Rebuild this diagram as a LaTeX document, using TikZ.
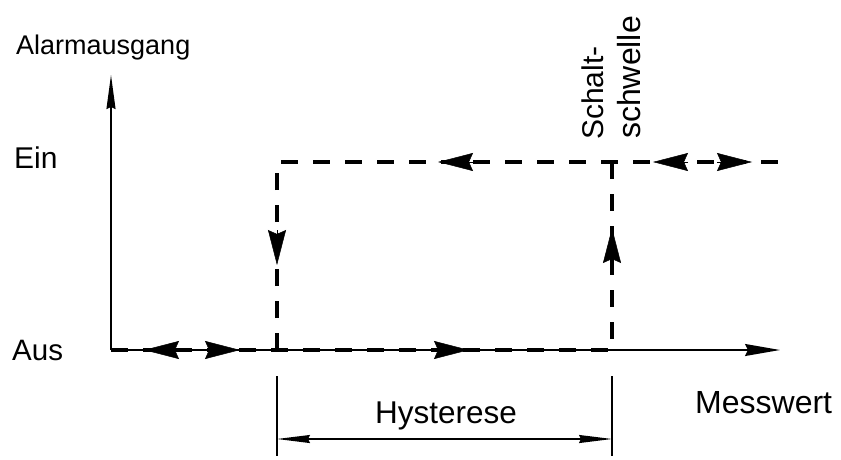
\documentclass[tikz,border=0pt]{standalone}
\usepackage{fontspec}
\setmainfont{Liberation Sans}
\usetikzlibrary{arrows.meta}
\begin{document}
\begin{tikzpicture}[x=1pt,y=-1pt,
  thinline/.style={line width=1.5pt},
  dashline/.style={line width=4pt, dash pattern=on 17pt off 15pt},
  markarrow/.style={line width=0.5pt, -{Stealth[length=35pt,width=18pt,inset=4pt]}},
  axisarrow/.style={thinline, -{Stealth[length=34pt,width=9pt,inset=2pt]}},
  haxisarrow/.style={thinline, -{Stealth[length=35pt,width=12pt,inset=3pt]}},
  dimarrow/.style={thinline, {Stealth[length=33pt,width=8pt,inset=2pt]}-{Stealth[length=33pt,width=8pt,inset=2pt]}},
  lbl/.style={inner sep=0pt, anchor=base west}]
\useasboundingbox (0,0) rectangle (841,460);
% axes
\coordinate (O) at (111,350);
\coordinate (ytop) at (111,75);
\coordinate (xend) at (780,350);
\draw[axisarrow] (O) -- (ytop);
\draw[haxisarrow] (O) -- (xend);
% hysteresis loop
\coordinate (A1) at (277,350);
\coordinate (A2) at (277,162);
\coordinate (B1) at (612,350);
\coordinate (B2) at (612,162);
\coordinate (Eend) at (778,162);
\draw[dashline] (O) -- (B1);
\draw[dashline] (A1) -- (A2) -- (Eend);
\draw[dashline] (B2) -- (B1);
% direction marks
\coordinate (m1a) at (180,350); \coordinate (m1b) at (144,350);
\coordinate (m2a) at (205,350); \coordinate (m2b) at (240,350);
\coordinate (m3a) at (434,350); \coordinate (m3b) at (469,350);
\coordinate (m4a) at (473,162); \coordinate (m4b) at (438,162);
\coordinate (m5a) at (688,162); \coordinate (m5b) at (653,162);
\coordinate (m6a) at (717,162); \coordinate (m6b) at (752,162);
\coordinate (m7a) at (277,230); \coordinate (m7b) at (277,265);
\coordinate (m8a) at (612,263); \coordinate (m8b) at (612,228);
\foreach \s in {1,...,8} \draw[markarrow] (m\s a) -- (m\s b);
% dimension
\coordinate (d1t) at (277,376); \coordinate (d1b) at (277,456);
\coordinate (d2t) at (612,376); \coordinate (d2b) at (612,456);
\coordinate (dl) at (277,439); \coordinate (dr) at (612,439);
\draw[thinline] (d1t) -- (d1b);
\draw[thinline] (d2t) -- (d2b);
\draw[dimarrow] (dl) -- (dr);
% labels
\node[lbl, font=\fontsize{27}{30}\selectfont] (alarm) at (16,55) {Alarmausgang};
\node[lbl, font=\fontsize{30}{33}\selectfont] (ein) at (14,168) {Ein};
\node[lbl, font=\fontsize{29.5}{33}\selectfont] (aus) at (12,360) {Aus};
\node[lbl, font=\fontsize{32}{35}\selectfont] (mess) at (695,413) {Messwert};
\node[inner sep=0pt, anchor=base, font=\fontsize{31.5}{35}\selectfont] (hyst) at (446,423) {Hysterese};
\node[lbl, rotate=90, font=\fontsize{30}{33}\selectfont] (sch1) at (603,140) {Schalt-};
\node[lbl, rotate=90, font=\fontsize{32}{35}\selectfont] (sch2) at (640,139) {schwelle};
\end{tikzpicture}
\end{document}
